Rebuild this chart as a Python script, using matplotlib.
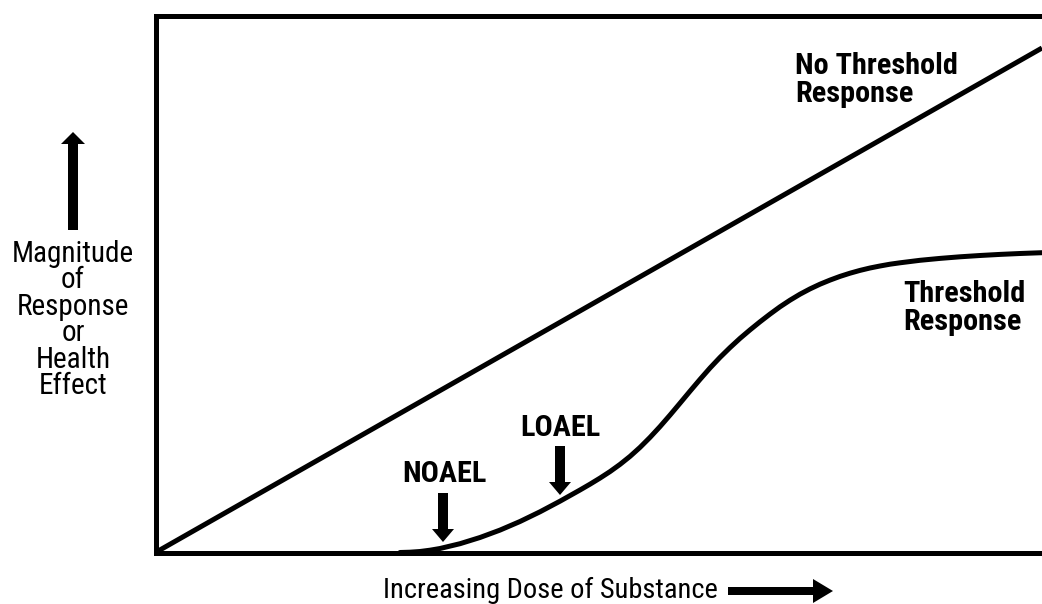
import matplotlib
matplotlib.use("Agg")
import matplotlib.pyplot as plt
from matplotlib.patches import FancyArrowPatch

# ---- data (arbitrary dose / response units) ----
no_threshold_dose = [0.0, 886.5]
no_threshold_resp = [0.0, 504.5]

threshold_dose = [244.5, 254.5, 264.5, 274.5, 284.5, 304.5, 324.5, 344.5, 364.5, 384.5,
                  404.5, 414.5, 424.5, 434.5, 444.5, 454.5, 464.5, 474.5, 484.5, 494.5,
                  504.5, 514.5, 524.5, 534.5, 544.5, 554.5, 564.5, 574.5, 584.5, 594.5,
                  604.5, 614.5, 624.5, 634.5, 644.5, 654.5, 664.5, 674.5, 684.5, 694.5,
                  704.5, 714.5, 724.5, 734.5, 744.5, 764.5, 784.5, 804.5, 824.5, 844.5,
                  864.5, 886.5]
threshold_resp = [0.0, 0.3, 1.0, 2.3, 4.0, 8.8, 15.0, 22.4, 31.0, 40.7,
                  51.3, 56.9, 62.5, 68.3, 74.4, 80.9, 88.1, 96.1, 105.1, 115.1,
                  125.9, 137.4, 149.3, 161.3, 173.1, 184.5, 195.1, 204.9, 214.1, 222.6,
                  230.7, 238.4, 245.7, 252.3, 258.3, 263.6, 268.3, 272.4, 276.1, 279.3,
                  282.1, 284.5, 286.5, 288.3, 289.7, 292.2, 294.1, 295.7, 297.0, 298.1,
                  299.0, 299.8]

x_label = "Increasing Dose of Substance"
y_label = "Magnitude\nof\nResponse\nor\nHealth\nEffect"
curve_labels = ["No Threshold\nResponse", "Threshold\nResponse"]
marker_labels = ["LOAEL", "NOAEL"]

fam = ["Roboto Condensed", "DejaVu Sans"]

W, H = 1042, 604
fig = plt.figure(figsize=(W / 100, H / 100), dpi=100)

def fx(px):
    return px / W

def fy(py):
    return 1 - py / H

left, right, top, bottom = 155.5, 1042.0, 15.5, 552.5
ax = fig.add_axes([fx(left), fy(bottom), fx(right) - fx(left), fy(top) - fy(bottom)])
ax.set_xlim(0, 886.5)
ax.set_ylim(0, 537)
for s in ["left", "top", "bottom"]:
    ax.spines[s].set_linewidth(3.6)
    ax.spines[s].set_color("black")
ax.spines["right"].set_visible(False)
ax.set_xticks([])
ax.set_yticks([])

ax.plot(no_threshold_dose, no_threshold_resp, color="black", lw=3.6, solid_capstyle="butt")
ax.plot(threshold_dose, threshold_resp, color="black", lw=3.6,
        solid_joinstyle="round", solid_capstyle="round")

def ftext(px, py, s, **kw):
    fig.text(fx(px), fy(py), s, family=fam, **kw)

# labels on curves
ftext(795, 102, curve_labels[0], fontsize=21.8, fontweight="bold",
      ha="left", va="baseline", linespacing=1.02)
ftext(903, 330, curve_labels[1], fontsize=21.8, fontweight="bold",
      ha="left", va="baseline", linespacing=1.02)
ftext(560, 436, marker_labels[0], fontsize=21.8, fontweight="bold", ha="center", va="baseline")
ftext(444, 482, marker_labels[1], fontsize=21.8, fontweight="bold", ha="center", va="baseline")

# axis labels
ftext(73, 320, y_label, fontsize=21, ha="center", va="center", linespacing=0.93)
ftext(383, 590, x_label, fontsize=20.5, ha="left", va="center")

def farrow(x0, y0, x1, y1, tail, hw, hl):
    ms = 10.0
    px = ms * 100 / 72
    fig.add_artist(FancyArrowPatch(
        (fx(x0), fy(y0)), (fx(x1), fy(y1)), transform=fig.transFigure,
        arrowstyle=f"simple,head_width={hw / px},head_length={hl / px},tail_width={tail / px}",
        mutation_scale=ms, color="black", shrinkA=0, shrinkB=0, lw=0))

farrow(443, 493, 443, 542, 10, 22, 13)   # NOAEL
farrow(560, 446, 560, 495, 10, 22, 13)   # LOAEL
farrow(73, 230, 73, 132, 10, 24, 12)     # y arrow
farrow(728, 591, 833, 591, 8, 24, 20)    # x arrow

fig.savefig("out.png", dpi=100, facecolor="white")
